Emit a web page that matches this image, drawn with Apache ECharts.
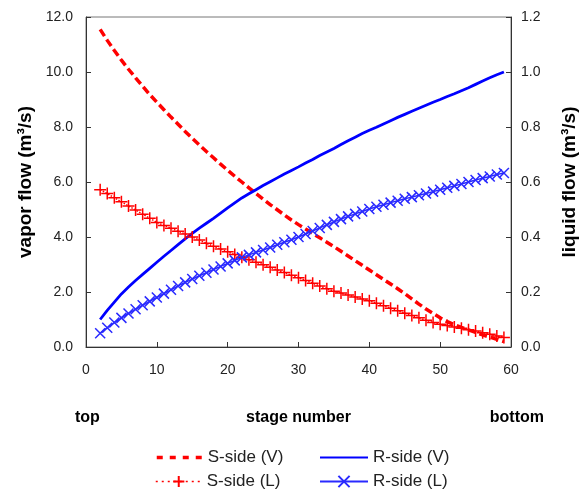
<!DOCTYPE html>
<html>
<head>
<meta charset="utf-8">
<script src="https://cdn.jsdelivr.net/npm/echarts@6/dist/echarts.min.js"></script>
<style>
  html, body { margin: 0; padding: 0; background: #fff; }
  #chart { width: 587px; height: 489px; }
</style>
</head>
<body>
<div id="chart"></div>
<script>
  // stage numbers 2..59
  var stages = [2, 3, 4, 5, 6, 7, 8, 9, 10, 11, 12, 13, 14, 15, 16, 17, 18, 19, 20, 21,
    22, 23, 24, 25, 26, 27, 28, 29, 30, 31, 32, 33, 34, 35, 36, 37, 38, 39, 40, 41,
    42, 43, 44, 45, 46, 47, 48, 49, 50, 51, 52, 53, 54, 55, 56, 57, 58, 59];

  // vapor flow, left axis
  var sVapor = [11.55, 11.15, 10.78, 10.43, 10.10, 9.79, 9.48, 9.18, 8.90, 8.63,
    8.36, 8.10, 7.84, 7.59, 7.35, 7.11, 6.88, 6.65, 6.43, 6.21,
    6.00, 5.79, 5.58, 5.38, 5.18, 4.99, 4.80, 4.62, 4.45, 4.29,
    4.13, 3.97, 3.81, 3.65, 3.48, 3.31, 3.14, 2.97, 2.80, 2.63,
    2.46, 2.29, 2.12, 1.94, 1.75, 1.56, 1.38, 1.22, 1.06, 0.92,
    0.81, 0.71, 0.62, 0.53, 0.44, 0.36, 0.28, 0.20];
  var rVapor = [1.00, 1.33, 1.63, 1.93, 2.18, 2.42, 2.64, 2.86, 3.08, 3.30,
    3.51, 3.72, 3.93, 4.13, 4.32, 4.50, 4.68, 4.87, 5.06, 5.24,
    5.42, 5.57, 5.72, 5.87, 6.01, 6.15, 6.29, 6.42, 6.55, 6.69,
    6.82, 6.96, 7.09, 7.22, 7.36, 7.50, 7.63, 7.76, 7.88, 7.99,
    8.11, 8.23, 8.35, 8.46, 8.57, 8.68, 8.79, 8.90, 9.00, 9.11,
    9.21, 9.32, 9.43, 9.55, 9.67, 9.79, 9.90, 10.00];

  // liquid flow, right axis
  var sLiquid = [0.572, 0.558, 0.543, 0.528, 0.513, 0.498, 0.483, 0.468, 0.453, 0.442,
    0.432, 0.421, 0.411, 0.400, 0.389, 0.377, 0.366, 0.356, 0.346, 0.336,
    0.326, 0.317, 0.308, 0.299, 0.290, 0.280, 0.271, 0.261, 0.252, 0.242,
    0.232, 0.222, 0.212, 0.203, 0.196, 0.189, 0.182, 0.175, 0.168, 0.159,
    0.150, 0.141, 0.132, 0.123, 0.115, 0.106, 0.097, 0.089, 0.083, 0.078,
    0.073, 0.068, 0.063, 0.058, 0.052, 0.046, 0.040, 0.035];
  var rLiquid = [0.050, 0.070, 0.089, 0.106, 0.122, 0.137, 0.152, 0.166, 0.180, 0.194,
    0.208, 0.222, 0.235, 0.247, 0.259, 0.270, 0.282, 0.293, 0.304, 0.315,
    0.326, 0.335, 0.344, 0.353, 0.362, 0.372, 0.381, 0.390, 0.400, 0.411,
    0.422, 0.433, 0.444, 0.455, 0.465, 0.475, 0.484, 0.493, 0.502, 0.510,
    0.517, 0.525, 0.532, 0.539, 0.545, 0.552, 0.558, 0.565, 0.572, 0.579,
    0.586, 0.593, 0.600, 0.607, 0.614, 0.620, 0.627, 0.633];

  function pairs(ys) {
    return stages.map(function (s, i) { return [s, ys[i]]; });
  }

  var plusPath = 'path://M0,5L10,5M5,0L5,10';
  var crossPath = 'path://M0,0L10,10M10,0L0,10';
  var font = 'Liberation Sans, Arial, sans-serif';
  var axisColor = '#333';

  function legendAt(item, left, top, width) {
    return {
      orient: 'vertical',
      left: left, top: top,
      itemWidth: width, itemHeight: 14, itemGap: 5,
      textStyle: { fontSize: 17, color: '#222', fontFamily: font },
      data: [item]
    };
  }

  var chart = echarts.init(document.getElementById('chart'));
  chart.setOption({
    animation: false,
    backgroundColor: '#fff',
    textStyle: { fontFamily: font },
    grid: {
      left: 86, right: 76, top: 17, bottom: 142,
      show: true, borderColor: '#777', borderWidth: 1
    },
    legend: [
      legendAt({ name: 'S-side (V)', itemStyle: { opacity: 0 },
        lineStyle: { type: [6, 7], width: 3.5 } }, 150, 444, 46),
      legendAt({ name: 'S-side (L)', lineStyle: { type: [2, 4], width: 1.5 } }, 150, 468, 46),
      legendAt({ name: 'R-side (V)', itemStyle: { opacity: 0 } }, 314, 444, 48),
      legendAt('R-side (L)', 314, 468, 48)
    ],
    xAxis: {
      type: 'value', min: 0, max: 60, interval: 10,
      name: 'stage number', nameLocation: 'middle', nameGap: 63,
      nameTextStyle: { fontSize: 16, fontWeight: 'bold', color: '#000' },
      axisLine: { lineStyle: { color: axisColor } },
      axisTick: { inside: true, length: 5, lineStyle: { color: axisColor } },
      axisLabel: { fontSize: 14, color: '#222', margin: 16 },
      splitLine: { show: false }
    },
    yAxis: [{
      type: 'value', min: 0, max: 12, interval: 2,
      position: 'left',
      name: 'vapor flow (m³/s)', nameLocation: 'middle', nameGap: 48, nameRotate: 90,
      nameTextStyle: { fontSize: 19, fontWeight: 'bold', color: '#000' },
      axisLine: { show: true, lineStyle: { color: axisColor } },
      axisTick: { show: true, inside: true, length: 5, lineStyle: { color: axisColor } },
      axisLabel: { fontSize: 14, color: '#222', margin: 13,
        formatter: function (v) { return v.toFixed(1); } },
      splitLine: { show: false }
    }, {
      type: 'value', min: 0, max: 1.2, interval: 0.2,
      position: 'right',
      name: 'liquid flow (m³/s)', nameLocation: 'middle', nameGap: 49, nameRotate: 90,
      nameTextStyle: { fontSize: 19, fontWeight: 'bold', color: '#000' },
      axisLine: { show: true, lineStyle: { color: axisColor } },
      axisTick: { show: true, inside: true, length: 5, lineStyle: { color: axisColor } },
      axisLabel: { fontSize: 14, color: '#222', margin: 10,
        formatter: function (v) { return v.toFixed(1); } },
      splitLine: { show: false }
    }],
    graphic: [{
      type: 'text', x: 75, y: 418,
      style: { text: 'top', font: 'bold 16px ' + font, fill: '#000',
        align: 'left', verticalAlign: 'middle' }
    }, {
      type: 'text', x: 544, y: 418,
      style: { text: 'bottom', font: 'bold 16px ' + font, fill: '#000',
        align: 'right', verticalAlign: 'middle' }
    }],
    series: [{
      name: 'S-side (V)', type: 'line', yAxisIndex: 0,
      data: pairs(sVapor), symbol: 'none',
      lineStyle: { color: '#ff0000', width: 3.5, type: [8, 4] },
      itemStyle: { color: '#ff0000' }
    }, {
      name: 'R-side (V)', type: 'line', yAxisIndex: 0,
      data: pairs(rVapor), symbol: 'none',
      lineStyle: { color: '#0000ff', width: 2.8 },
      itemStyle: { color: '#0000ff' }
    }, {
      name: 'S-side (L)', type: 'line', yAxisIndex: 1,
      data: pairs(sLiquid), symbol: plusPath, symbolSize: 12,
      lineStyle: { color: '#ff0000', width: 1.5, type: 'dotted' },
      itemStyle: { color: '#ff0000', borderColor: '#ff0000', borderWidth: 1.5 }
    }, {
      name: 'R-side (L)', type: 'line', yAxisIndex: 1,
      data: pairs(rLiquid), symbol: crossPath, symbolSize: 10,
      lineStyle: { color: '#2a2aff', width: 1.5 },
      itemStyle: { color: '#2a2aff', borderColor: '#2a2aff', borderWidth: 1.5 }
    }]
  });
</script>
</body>
</html>
